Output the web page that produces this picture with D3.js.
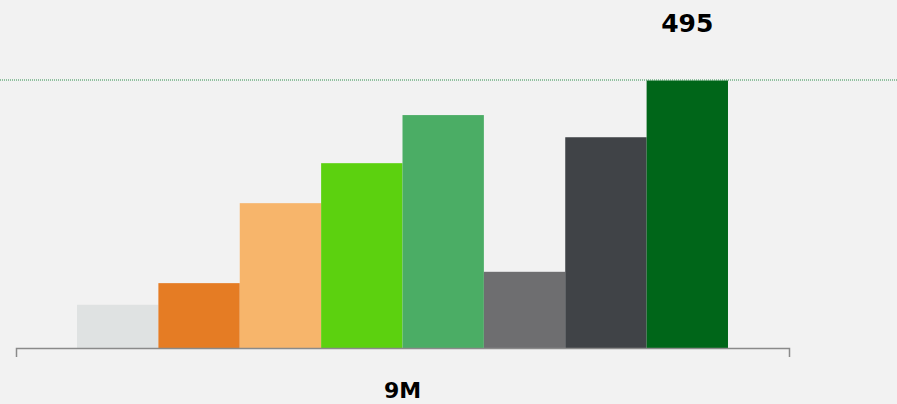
<!DOCTYPE html>
<html>
<head>
<meta charset="utf-8">
<script src="https://cdn.jsdelivr.net/npm/d3@7"></script>
<style>
  html, body { margin: 0; padding: 0; background: #f2f2f2; }
  svg { display: block; }
</style>
</head>
<body>
<svg id="chart" width="897" height="404"></svg>
<script>
const categories = ["9M"];
const seriesNames = ["S1", "S2", "S3", "S4", "S5", "S6", "S7", "S8"];
const seriesValues = [80, 120, 268, 342, 431, 141, 390, 495];
const seriesColors = ["#dfe2e2", "#e57c24", "#f7b56b", "#5cd10f", "#4bad65", "#6e6e70", "#404347", "#006619"];
const maxLabel = "495";

const W = 897, H = 404;
const svg = d3.select("#chart");
svg.append("rect").attr("width", W).attr("height", H).attr("fill", "#f2f2f2");

const baseY = 348;
const x0 = d3.scaleBand().domain(categories).range([16, 789]).padding(0.0857);
const x1 = d3.scaleBand().domain(seriesNames).range([0, x0.bandwidth()]).padding(0);
const y = d3.scaleLinear().domain([0, d3.max(seriesValues)]).range([baseY, 80.5]);

const g = svg.append("g");
categories.forEach(cat => {
  g.selectAll("rect.bar")
    .data(seriesNames.map((s, i) => ({ s, v: seriesValues[i], c: seriesColors[i] })))
    .join("rect")
    .attr("class", "bar")
    .attr("x", d => x0(cat) + x1(d.s))
    .attr("y", d => y(d.v))
    .attr("width", x1.bandwidth())
    .attr("height", d => baseY - y(d.v))
    .attr("fill", d => d.c);
});

// dotted max line
const maxV = d3.max(seriesValues);
svg.append("line")
  .attr("x1", 0).attr("x2", W)
  .attr("y1", y(maxV) - 0.5).attr("y2", y(maxV) - 0.5)
  .attr("stroke", "#2f8f4c")
  .attr("stroke-width", 1)
  .attr("stroke-dasharray", "1,1");

// max label above the top bar
const maxIdx = seriesValues.indexOf(maxV);
svg.append("text")
  .attr("x", x0(categories[0]) + x1(seriesNames[maxIdx]) + x1.bandwidth() / 2)
  .attr("y", 31.5)
  .attr("text-anchor", "middle")
  .attr("font-family", "DejaVu Sans, sans-serif")
  .attr("font-weight", "bold")
  .attr("font-size", 25)
  .attr("fill", "#000")
  .text(maxLabel);

// x axis
const axis = d3.axisBottom(x0).tickSizeInner(0).tickSizeOuter(9).tickPadding(34);
const ax = svg.append("g").attr("transform", `translate(0,${baseY})`).call(axis);
ax.select(".domain").attr("stroke", "#8a8a8a").attr("stroke-width", 1.5);
ax.selectAll(".tick text")
  .attr("font-family", "DejaVu Sans, sans-serif")
  .attr("font-weight", "bold")
  .attr("font-size", 22)
  .attr("fill", "#000");
</script>
</body>
</html>
